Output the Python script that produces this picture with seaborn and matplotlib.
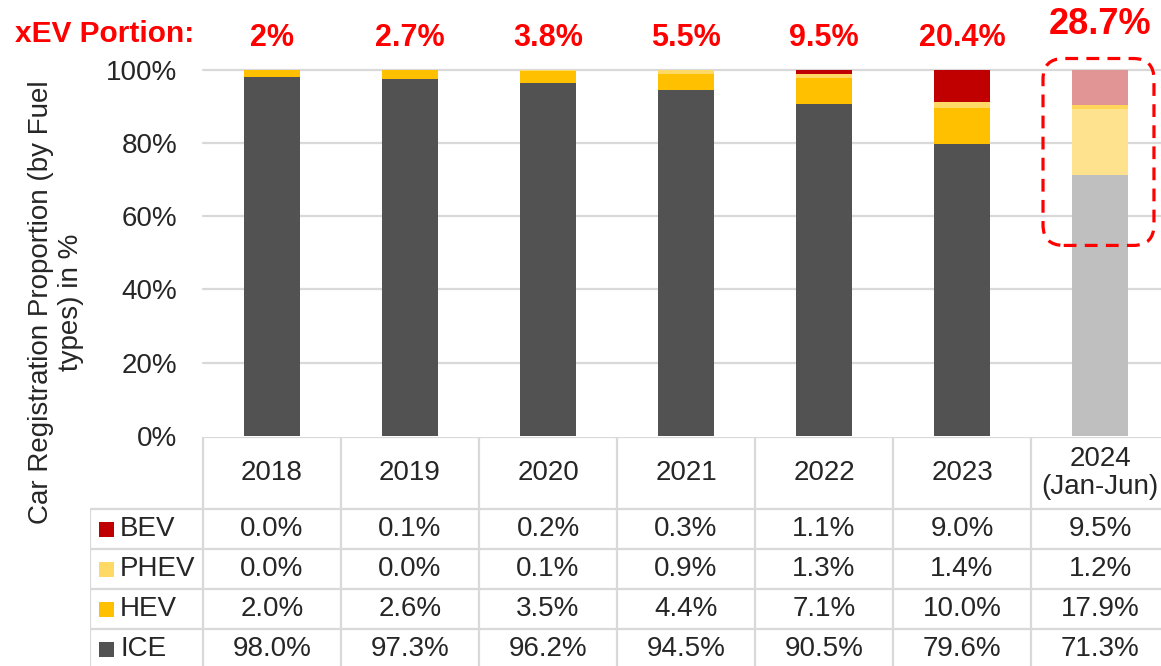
import numpy as np
import pandas as pd
import matplotlib
matplotlib.use("Agg")
import matplotlib.pyplot as plt
import matplotlib.transforms as mtransforms
from matplotlib.patches import FancyBboxPatch, Rectangle
from matplotlib.lines import Line2D
import seaborn as sns

# ---------------- data ----------------
years = ["2018", "2019", "2020", "2021", "2022", "2023", "2024\n(Jan-Jun)"]
bev = [0.0, 0.1, 0.2, 0.3, 1.1, 9.0, 9.5]
phev = [0.0, 0.0, 0.1, 0.9, 1.3, 1.4, 1.2]
hev = [2.0, 2.6, 3.5, 4.4, 7.1, 10.0, 17.9]
ice = [98.0, 97.3, 96.2, 94.5, 90.5, 79.6, 71.3]
xev_portion = [2, 2.7, 3.8, 5.5, 9.5, 20.4, 28.7]
series_names = ["BEV", "PHEV", "HEV", "ICE"]
y_ticks = [0, 20, 40, 60, 80, 100]

# ---------------- style ----------------
colors = {"BEV": "#C00000", "PHEV": "#FFD966", "HEV": "#FFC000", "ICE": "#525252"}
colors_light = {"BEV": "#E19595", "PHEV": "#FFD65A", "HEV": "#FFE28E", "ICE": "#BFBFBF"}
TXT = "#262626"
GRID = "#D9D9D9"
RED = "#FF0000"

sns.set_style("white")
plt.rcParams["font.family"] = ["Liberation Sans", "DejaVu Sans"]

W, H = 1161, 666
fig = plt.figure(figsize=(W / 100, H / 100), dpi=100)

def px_ax(l, t, r, b):
    return [l / W, (H - b) / H, (r - l) / W, (b - t) / H]

ax = fig.add_axes(px_ax(203, 69.5, 1169, 436))

df = pd.DataFrame({"year": years, "BEV": bev, "PHEV": phev, "HEV": hev, "ICE": ice})
df["c_ice"] = df["ICE"]
df["c_hev"] = df["c_ice"] + df["HEV"]
df["c_phev"] = df["c_hev"] + df["PHEV"]
df["c_bev"] = df["c_phev"] + df["BEV"]

layers = [("c_bev", "BEV"), ("c_phev", "PHEV"), ("c_hev", "HEV"), ("c_ice", "ICE")]
for col, name in layers:
    pal = [colors[name]] * (len(years) - 1) + [colors_light[name]]
    sns.barplot(data=df, x="year", y=col, hue="year", order=years, hue_order=years,
                palette=pal, width=0.405, legend=False, ax=ax,
                edgecolor="none", linewidth=0, saturation=1)

ax.set_xlim(-0.5, 6.5)
ax.set_ylim(0, 100)
ax.set_yticks(y_ticks)
ax.set_yticklabels([f"{v}%" for v in y_ticks])
ax.set_xticks([])
ax.set_xlabel("")
ax.set_ylabel("")
ax.tick_params(axis="y", length=0, pad=18.5, labelsize=20, labelcolor=TXT)
for s in ax.spines.values():
    s.set_visible(False)
for v in y_ticks[1:]:
    ax.axhline(v, color=GRID, lw=1.6, zorder=0, clip_on=False)
ax.set_axisbelow(True)

# xEV portion labels
trans_top = mtransforms.blended_transform_factory(ax.transData, fig.transFigure)
for i, v in enumerate(xev_portion):
    last = i == len(xev_portion) - 1
    ax.text(i, (H - (25 if last else 37.5)) / H, f"{v:g}%", transform=trans_top,
            ha="center", va="center", color=RED, fontweight="bold",
            fontsize=26 if last else 22)
fig.text(15 / W, (H - 34) / H, "xEV Portion:", ha="left", va="center",
         color=RED, fontweight="bold", fontsize=21.5)

# dashed highlight box around last bar
ypp = 100 / 366.5   # y units per pixel
xpp = 1 / 138       # x units per pixel
last_i = len(years) - 1
box = FancyBboxPatch((last_i - 0.413, 52.0), 0.804, 51.0,
                     boxstyle="round,pad=0,rounding_size=0.15",
                     mutation_aspect=ypp / xpp, fill=False, edgecolor=RED,
                     lw=2.3, linestyle=(0, (4, 2.6)), clip_on=False, zorder=5)
ax.add_patch(box)

# y label
fig.text(56 / W, (H - 302) / H, "Car Registration Proportion (by Fuel\ntypes) in %",
         rotation=90, ha="center", va="center", color=TXT, fontsize=20,
         multialignment="center")

# ---------------- data table ----------------
tax = fig.add_axes(px_ax(90, 437, 1169, 670))
x_left = -0.5 - (203 - 90) / 138
tax.set_xlim(x_left, 6.5)
tax.set_ylim(5.825, 0)
tax.axis("off")

hdr = 1.8
row_edges = [hdr + k for k in range(len(series_names) + 1)]
lkw = dict(color=GRID, lw=1.6, solid_capstyle="butt")
# horizontal lines
tax.add_line(Line2D([-0.5, 6.5], [0, 0], **lkw))
for yv in row_edges:
    tax.add_line(Line2D([x_left, 6.5], [yv, yv], **lkw))
# vertical lines
for k in range(len(years) + 1):
    tax.add_line(Line2D([k - 0.5, k - 0.5], [0, 6], **lkw))
tax.add_line(Line2D([x_left, x_left], [hdr, 6], **lkw))

for i, y in enumerate(years):
    tax.text(i, hdr / 2, y, ha="center", va="center", fontsize=20, color=TXT,
             linespacing=1.1)

table_vals = {"BEV": bev, "PHEV": phev, "HEV": hev, "ICE": ice}
for r, name in enumerate(series_names):
    yc = hdr + r + 0.5
    tax.add_patch(Rectangle((x_left + 9 / 138, yc - 0.1875), 15 / 138, 0.375,
                            facecolor=colors[name], edgecolor="none"))
    tax.text(x_left + 30 / 138, yc, name, ha="left", va="center", fontsize=20, color=TXT)
    for i, v in enumerate(table_vals[name]):
        tax.text(i, yc, f"{v:.1f}%", ha="center", va="center", fontsize=20, color=TXT)

fig.savefig("out.png", dpi=100)
